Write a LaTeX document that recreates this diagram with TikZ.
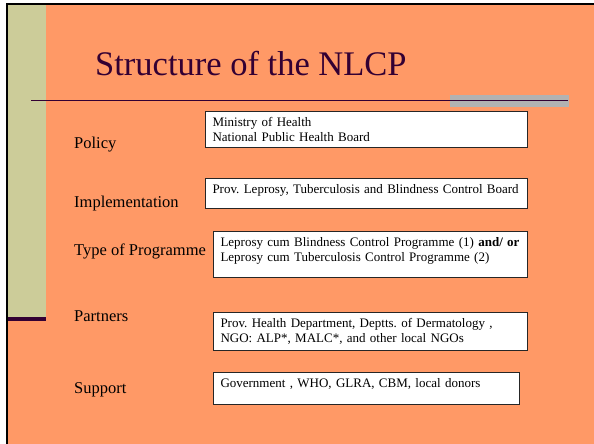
\documentclass[tikz,border=0pt]{standalone}
\usepackage{fontspec}
\setmainfont{Liberation Serif}
\frenchspacing
\definecolor{slideorange}{HTML}{FF9966}
\definecolor{slidegreen}{HTML}{CCCC99}
\definecolor{slidepurple}{HTML}{330033}
\definecolor{slidegray}{HTML}{B2B2B2}
\begin{document}
\begin{tikzpicture}[x=1pt,y=-1pt]
	\tikzstyle{lbl}=[anchor=base west,inner sep=0,font=\fontsize{16.5}{19}\selectfont]
	\tikzstyle{panel}=[anchor=north west,draw=black!85,line width=1pt,fill=white,align=left,inner xsep=7pt,inner ysep=4pt,text height=11pt,font=\fontsize{13}{15.4}\selectfont]

	\useasboundingbox (0,0) rectangle (594,444);
	% slide background
	\fill[white] (0,0) rectangle (594,444);
	\fill[slideorange] (7,4) rectangle (594,444);
	\fill[slidegreen] (8,5) rectangle (46,318);
	\fill[slidepurple] (8,317) rectangle (46,320.5);
	\draw[black,line width=2pt] (7,444) -- (7,4) -- (594,4);

	\node [anchor=base west,inner sep=0,text=slidepurple,font=\fontsize{34.5}{40}\selectfont] (title) at (95,75) {Structure of the NLCP};
	\fill[slidegray] (450,95) rectangle (569,107);
	\draw[slidepurple,line width=1pt] (31,100) -- (568,100);

	\node [lbl] (policy)  at (74,148) {Policy};
	\node [lbl] (impl)    at (74,207) {Implementation};
	\node [lbl] (type)    at (74,255) {Type of Programme};
	\node [lbl] (partner) at (74,321) {Partners};
	\node [lbl] (support) at (74,393) {Support};

	\node [panel,text width=308pt,text depth=17pt] (ministry) at (205,111) {Ministry of Health\\National Public Health Board};
	\node [panel,text width=308pt,text depth=11pt] (board) at (205,178) {\mbox{Prov. Leprosy, Tuberculosis and Blindness Control Board}};
	\node [panel,text width=300pt,text depth=27pt] (prog) at (213,231) {\mbox{Leprosy cum Blindness Control Programme (1) \textbf{and/ or}}\\Leprosy cum Tuberculosis Control Programme (2)};
	\node [panel,text width=300pt,text depth=19pt] (partners) at (213,312) {Prov. Health Department, Deptts. of Dermatology ,\\NGO: ALP*, MALC*, and other local NGOs};
	\node [panel,text width=292pt,text depth=13pt] (donors) at (213,372) {Government , WHO, GLRA, CBM, local donors};
\end{tikzpicture}
\end{document}
